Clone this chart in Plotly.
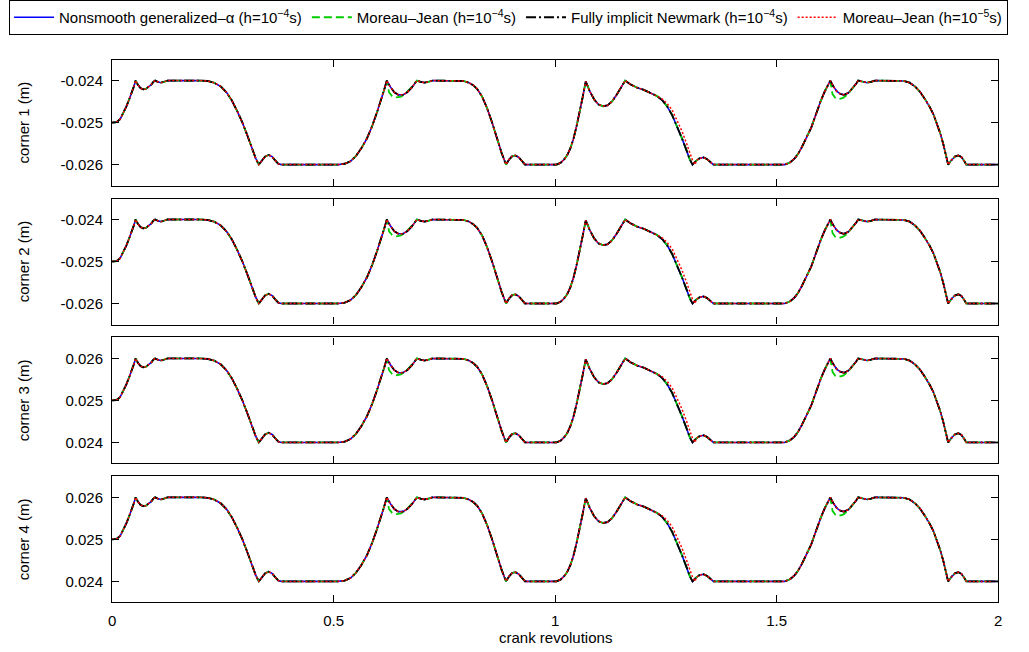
import plotly.graph_objects as go

# ---------------- data ----------------
crank = [
    0.000, 0.010, 0.018, 0.025, 0.032, 0.038, 0.044, 0.049, 0.053, 0.058,
    0.064, 0.070, 0.076, 0.082, 0.088, 0.093, 0.097, 0.103, 0.110, 0.117,
    0.125, 0.200, 0.215, 0.230, 0.245, 0.258, 0.270, 0.282, 0.294, 0.305,
    0.315, 0.324, 0.331, 0.338, 0.345, 0.353, 0.361, 0.368, 0.375, 0.382,
    0.510, 0.525, 0.538, 0.550, 0.562, 0.575, 0.587, 0.598, 0.607, 0.614,
    0.620, 0.628, 0.637, 0.646, 0.656, 0.666, 0.676, 0.683, 0.688, 0.696,
    0.705, 0.714, 0.723, 0.793, 0.805, 0.815, 0.824, 0.835, 0.846, 0.857,
    0.868, 0.879, 0.889, 0.896, 0.903, 0.910, 0.918, 0.925, 0.932, 1.003,
    1.012, 1.020, 1.027, 1.034, 1.041, 1.048, 1.055, 1.061, 1.066, 1.069,
    1.078, 1.088, 1.098, 1.108, 1.118, 1.128, 1.138, 1.148, 1.158, 1.170,
    1.185, 1.200, 1.215, 1.230, 1.242, 1.253, 1.264, 1.275, 1.286, 1.296,
    1.304, 1.310, 1.318, 1.326, 1.335, 1.343, 1.350, 1.357, 1.518, 1.530,
    1.540, 1.548, 1.556, 1.564, 1.571, 1.578, 1.586, 1.594, 1.600, 1.608,
    1.615, 1.621, 1.628, 1.636, 1.644, 1.652, 1.662, 1.672, 1.679, 1.684,
    1.694, 1.704, 1.713, 1.722, 1.787, 1.800, 1.812, 1.823, 1.834, 1.845,
    1.854, 1.862, 1.869, 1.876, 1.882, 1.887, 1.894, 1.902, 1.910, 1.917,
    1.923, 1.928, 2.000,
]

corner1 = [
    -0.02500, -0.02499, -0.02492, -0.02478, -0.02462, -0.02446, -0.02430, -0.02414, -0.02400, -0.02410,
    -0.02418, -0.02421, -0.02420, -0.02416, -0.02410, -0.02403, -0.02400, -0.02403, -0.02405, -0.02403,
    -0.02400, -0.02400, -0.02401, -0.02405, -0.02414, -0.02428, -0.02447, -0.02472, -0.02500, -0.02530,
    -0.02560, -0.02585, -0.02600, -0.02590, -0.02581, -0.02577, -0.02581, -0.02590, -0.02598, -0.02600,
    -0.02600, -0.02598, -0.02592, -0.02580, -0.02562, -0.02538, -0.02508, -0.02475, -0.02447, -0.02422,
    -0.02400, -0.02415, -0.02428, -0.02434, -0.02434, -0.02428, -0.02417, -0.02407, -0.02400, -0.02403,
    -0.02405, -0.02403, -0.02400, -0.02401, -0.02405, -0.02411, -0.02420, -0.02438, -0.02465, -0.02498,
    -0.02536, -0.02572, -0.02600, -0.02588, -0.02580, -0.02578, -0.02583, -0.02592, -0.02600, -0.02600,
    -0.02596, -0.02588, -0.02578, -0.02562, -0.02540, -0.02510, -0.02478, -0.02445, -0.02418, -0.02402,
    -0.02425, -0.02445, -0.02457, -0.02461, -0.02459, -0.02450, -0.02435, -0.02417, -0.02400, -0.02409,
    -0.02417, -0.02422, -0.02429, -0.02437, -0.02447, -0.02462, -0.02482, -0.02508, -0.02537, -0.02565,
    -0.02588, -0.02600, -0.02591, -0.02585, -0.02583, -0.02587, -0.02594, -0.02600, -0.02600, -0.02595,
    -0.02586, -0.02575, -0.02560, -0.02543, -0.02527, -0.02512, -0.02488, -0.02463, -0.02447, -0.02427,
    -0.02413, -0.02400, -0.02414, -0.02426, -0.02432, -0.02434, -0.02429, -0.02418, -0.02408, -0.02400,
    -0.02403, -0.02405, -0.02403, -0.02400, -0.02401, -0.02405, -0.02414, -0.02426, -0.02443, -0.02462,
    -0.02481, -0.02502, -0.02525, -0.02551, -0.02576, -0.02600, -0.02590, -0.02581, -0.02578, -0.02582,
    -0.02591, -0.02600, -0.02600,
]

corner2 = list(corner1)

corner3 = [
    0.02500, 0.02501, 0.02508, 0.02522, 0.02538, 0.02554, 0.02570, 0.02586, 0.02600, 0.02590,
    0.02582, 0.02579, 0.02580, 0.02584, 0.02590, 0.02597, 0.02600, 0.02597, 0.02595, 0.02597,
    0.02600, 0.02600, 0.02599, 0.02595, 0.02586, 0.02572, 0.02553, 0.02528, 0.02500, 0.02470,
    0.02440, 0.02415, 0.02400, 0.02410, 0.02419, 0.02423, 0.02419, 0.02410, 0.02402, 0.02400,
    0.02400, 0.02402, 0.02408, 0.02420, 0.02438, 0.02462, 0.02492, 0.02525, 0.02553, 0.02578,
    0.02600, 0.02585, 0.02572, 0.02566, 0.02566, 0.02572, 0.02583, 0.02593, 0.02600, 0.02597,
    0.02595, 0.02597, 0.02600, 0.02599, 0.02595, 0.02589, 0.02580, 0.02562, 0.02535, 0.02502,
    0.02464, 0.02428, 0.02400, 0.02412, 0.02420, 0.02422, 0.02417, 0.02408, 0.02400, 0.02400,
    0.02404, 0.02412, 0.02422, 0.02438, 0.02460, 0.02490, 0.02522, 0.02555, 0.02582, 0.02598,
    0.02575, 0.02555, 0.02543, 0.02539, 0.02541, 0.02550, 0.02565, 0.02583, 0.02600, 0.02591,
    0.02583, 0.02578, 0.02571, 0.02563, 0.02553, 0.02538, 0.02518, 0.02492, 0.02463, 0.02435,
    0.02412, 0.02400, 0.02409, 0.02415, 0.02417, 0.02413, 0.02406, 0.02400, 0.02400, 0.02405,
    0.02414, 0.02425, 0.02440, 0.02457, 0.02473, 0.02488, 0.02512, 0.02537, 0.02553, 0.02573,
    0.02587, 0.02600, 0.02586, 0.02574, 0.02568, 0.02566, 0.02571, 0.02582, 0.02592, 0.02600,
    0.02597, 0.02595, 0.02597, 0.02600, 0.02599, 0.02595, 0.02586, 0.02574, 0.02557, 0.02538,
    0.02519, 0.02498, 0.02475, 0.02449, 0.02424, 0.02400, 0.02410, 0.02419, 0.02422, 0.02418,
    0.02409, 0.02400, 0.02400,
]

corner4 = list(corner3)

# Moreau-Jean (h=1e-4) dips lower just after the 2nd and 4th rising peaks
mj4_seg_a_x = [0.620, 0.625, 0.632, 0.642, 0.652, 0.662, 0.672, 0.683]
mj4_seg_b_x = [1.621, 1.626, 1.632, 1.640, 1.650, 1.660, 1.670, 1.679]
mj4_seg_a_neg = [-0.02400, -0.02428, -0.02437, -0.02440, -0.02438, -0.02431, -0.02420, -0.02407]
mj4_seg_b_neg = [-0.02400, -0.02432, -0.02441, -0.02444, -0.02441, -0.02433, -0.02421, -0.02408]
mj4_seg_a_pos = [0.02600, 0.02572, 0.02563, 0.02560, 0.02562, 0.02569, 0.02580, 0.02593]
mj4_seg_b_pos = [0.02600, 0.02568, 0.02559, 0.02556, 0.02559, 0.02567, 0.02579, 0.02592]

# Moreau-Jean (h=1e-5) lags slightly on the third descent
mj5_seg_x = [1.242, 1.253, 1.264, 1.275, 1.286, 1.296, 1.304, 1.310, 1.316]
mj5_seg_neg = [-0.02444, -0.02455, -0.02470, -0.02494, -0.02520, -0.02548, -0.02572, -0.02590, -0.02600]
mj5_seg_pos = [0.02556, 0.02545, 0.02530, 0.02506, 0.02480, 0.02452, 0.02428, 0.02410, 0.02400]

series_names = [
    "Nonsmooth generalized\u2013\u03b1 (h=10<sup>\u22124</sup>s)",
    "Moreau\u2013Jean (h=10<sup>\u22124</sup>s)",
    "Fully implicit Newmark (h=10<sup>\u22124</sup>s)",
    "Moreau\u2013Jean (h=10<sup>\u22125</sup>s)",
]
panel_titles = ["corner 1 (m)", "corner 2 (m)", "corner 3 (m)", "corner 4 (m)"]
x_ticks = [0, 0.5, 1, 1.5, 2]
x_tick_text = ["0", "0.5", "1", "1.5", "2"]
neg_ticks = [-0.026, -0.025, -0.024]
neg_tick_text = ["-0.026", "-0.025", "-0.024"]
pos_ticks = [0.024, 0.025, 0.026]
pos_tick_text = ["0.024", "0.025", "0.026"]


def patched(xb, yb, segments):
    """Replace the base points lying inside each patch segment by that segment's points."""
    pts = []
    for xv, yv in zip(xb, yb):
        if not any(sx[0] <= xv <= sx[-1] for sx, _ in segments):
            pts.append((xv, yv))
    for sx, sy in segments:
        pts.extend(zip(sx, sy))
    pts.sort()
    return [p[0] for p in pts], [p[1] for p in pts]


styles = [
    dict(color="#0000ff", width=1.6, dash="solid"),
    dict(color="#00cc00", width=1.8, dash="8px,4px"),
    dict(color="#000000", width=1.8, dash="10px,3px,2px,3px"),
    dict(color="#ff0000", width=1.5, dash="2px,2px"),
]

panels = [
    (corner1, [(mj4_seg_a_x, mj4_seg_a_neg), (mj4_seg_b_x, mj4_seg_b_neg)], [(mj5_seg_x, mj5_seg_neg)]),
    (corner2, [(mj4_seg_a_x, mj4_seg_a_neg), (mj4_seg_b_x, mj4_seg_b_neg)], [(mj5_seg_x, mj5_seg_neg)]),
    (corner3, [(mj4_seg_a_x, mj4_seg_a_pos), (mj4_seg_b_x, mj4_seg_b_pos)], [(mj5_seg_x, mj5_seg_pos)]),
    (corner4, [(mj4_seg_a_x, mj4_seg_a_pos), (mj4_seg_b_x, mj4_seg_b_pos)], [(mj5_seg_x, mj5_seg_pos)]),
]

fig = go.Figure()
for i, (base, seg4, seg5) in enumerate(panels):
    xa = "x" if i == 0 else f"x{i+1}"
    ya = "y" if i == 0 else f"y{i+1}"
    gx, gy = patched(crank, base, seg4)
    rx, ry = patched(crank, base, seg5)
    data = [(crank, base), (gx, gy), (crank, base), (rx, ry)]
    for j, (xs, ys) in enumerate(data):
        fig.add_trace(go.Scatter(
            x=xs, y=ys, mode="lines", line=styles[j], name=series_names[j],
            showlegend=(i == 0), legendgroup=str(j), xaxis=xa, yaxis=ya,
        ))

W, H = 1029, 652
x_dom = [109 / W, 1002 / W]
tops = [55, 195, 335, 475]
ph = 127
layout = dict(
    width=W, height=H,
    margin=dict(l=0, r=0, t=0, b=0),
    paper_bgcolor="white", plot_bgcolor="white",
    font=dict(family="Liberation Sans, Arial, Helvetica, sans-serif", size=15, color="black"),
    showlegend=True,
    legend=dict(
        orientation="h", x=5 / W, y=1.008, xanchor="left", yanchor="top",
        bordercolor="black", borderwidth=1, bgcolor="white",
        font=dict(size=15, color="black"), itemwidth=40,
    ),
)
annotations = []
for i in range(4):
    sfx = "" if i == 0 else str(i + 1)
    top = tops[i]
    dom = [1 - (top + ph) / H, 1 - top / H]
    layout["xaxis" + sfx] = dict(
        domain=x_dom, range=[0, 2], anchor="y" + sfx,
        showline=True, mirror="allticks", linecolor="black", linewidth=1.2,
        ticks="inside", ticklen=7, tickcolor="black", tickwidth=1,
        tickvals=x_ticks, ticktext=x_tick_text, showticklabels=(i == 3),
        showgrid=False, zeroline=False, ticklabelstandoff=5,
    )
    if i > 0:
        layout["xaxis" + sfx]["matches"] = "x"
    layout["yaxis" + sfx] = dict(
        domain=dom, range=[-0.0265, -0.0235] if i < 2 else [0.0235, 0.0265],
        anchor="x" + sfx,
        showline=True, mirror="allticks", linecolor="black", linewidth=1.2,
        ticks="inside", ticklen=7, tickcolor="black", tickwidth=1,
        tickvals=neg_ticks if i < 2 else pos_ticks,
        ticktext=neg_tick_text if i < 2 else pos_tick_text,
        showgrid=False, zeroline=False, ticklabelstandoff=5,
    )
    annotations.append(dict(
        text=panel_titles[i], xref="paper", yref="paper",
        x=20 / W, y=(dom[0] + dom[1]) / 2, textangle=-90,
        showarrow=False, xanchor="center", yanchor="middle",
        font=dict(size=15, color="black"),
    ))
annotations.append(dict(
    text="crank revolutions", xref="paper", yref="paper",
    x=(x_dom[0] + x_dom[1]) / 2, y=1 - 637 / H, showarrow=False,
    xanchor="center", yanchor="middle", font=dict(size=15, color="black"),
))
layout["annotations"] = annotations
fig.update_layout(**layout)

# the page's default 8px body margin would shift the whole figure; remove it
fig.write_html(
    "out.html",
    config={"displayModeBar": False},
    post_script="document.body.style.margin='0px';",
)
